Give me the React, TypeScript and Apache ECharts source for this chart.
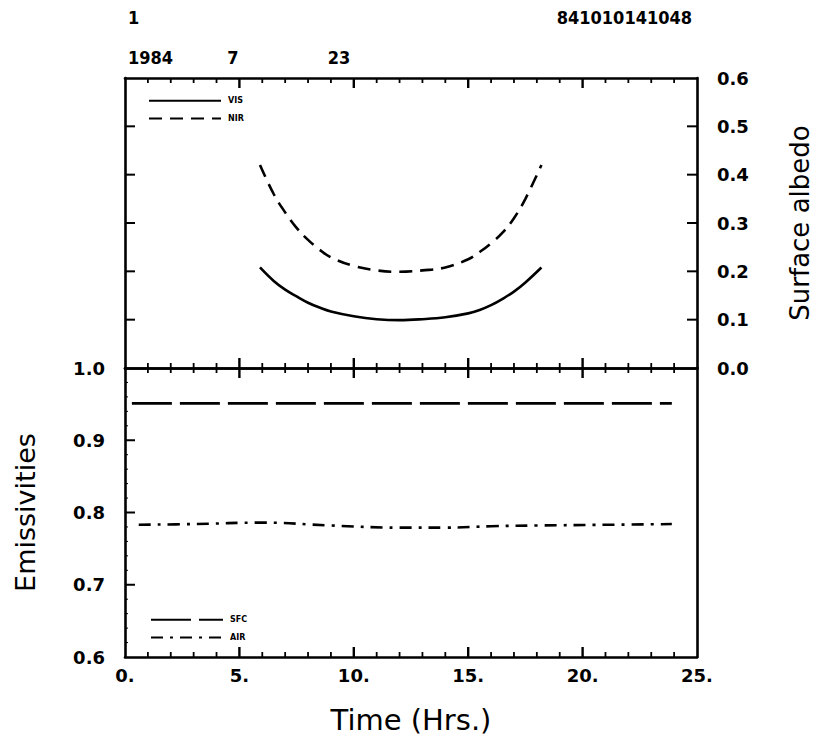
import React, { useEffect, useRef } from "react";
import * as echarts from "echarts";

// Surface albedo (top panel)
const visHours = [5.9, 6.5, 7, 7.5, 8, 8.5, 9, 10, 11, 12, 13, 14, 15, 15.5, 16, 16.5, 17, 17.5, 18.2];
const visValues = [0.208, 0.18, 0.162, 0.148, 0.135, 0.125, 0.117, 0.107, 0.101, 0.099, 0.101, 0.105, 0.113, 0.12, 0.13, 0.143, 0.158, 0.177, 0.208];
const nirHours = [5.9, 6.5, 7, 7.5, 8, 8.5, 9, 10, 11, 12, 13, 14, 15, 15.5, 16, 16.5, 17, 17.5, 18.2];
const nirValues = [0.42, 0.36, 0.322, 0.29, 0.265, 0.245, 0.229, 0.211, 0.202, 0.199, 0.202, 0.208, 0.225, 0.24, 0.258, 0.28, 0.31, 0.35, 0.42];

// Emissivities (bottom panel)
const sfcHours = [0.3, 6, 12, 18, 23.9];
const sfcValues = [0.951, 0.951, 0.951, 0.951, 0.951];
const airHours = [0.6, 3, 6, 9, 12, 14, 16, 18, 21, 23.9];
const airValues = [0.783, 0.784, 0.786, 0.782, 0.779, 0.779, 0.781, 0.782, 0.783, 0.784];

// axis ranges and tick marks
const timeRange = [0, 25];
const albedoRange = [0, 0.6];
const emisRange = [0.6, 1.0];
const timeTicks = [1, 2, 3, 4, 5, 6, 7, 8, 9, 10, 11, 12, 13, 14, 15, 16, 17, 18, 19, 20, 21, 22, 23, 24];
const albedoTicks = [0.1, 0.2, 0.3, 0.4, 0.5];
const emisTicks = [0.7, 0.8, 0.9];
const emisMinorTicks = [0.62, 0.64, 0.66, 0.68, 0.72, 0.74, 0.76, 0.78, 0.82, 0.84, 0.86, 0.88, 0.92, 0.94, 0.96, 0.98];

// header texts
const headerLeft = "1";
const headerId = "841010141048";
const dateYear = "1984";
const dateMonth = "7";
const dateDay = "23";

const pairs = (xs: number[], ys: number[]) => xs.map((x, i) => [x, ys[i]]);

const AXIS_FONT = "DejaVu Sans, Verdana, sans-serif";
const COND_FONT = "'DejaVu Sans Condensed', 'Liberation Sans Narrow', 'DejaVu Sans', sans-serif";

export default function App() {
  const ref = useRef<HTMLDivElement>(null);
  useEffect(() => {
    if (!ref.current) return;
    const chart = echarts.init(ref.current, undefined, { renderer: "svg" });

    const xAxisDef = (gridIndex: number, position: string, showLabel: boolean) => ({
      type: "value",
      gridIndex,
      position,
      min: timeRange[0],
      max: timeRange[1],
      interval: 5,
      axisLine: { show: true, onZero: false, lineStyle: { color: "#000", width: 2.6 } },
      axisTick: { show: false },
      splitLine: { show: false },
      axisLabel: {
        show: showLabel,
        margin: 9,
        color: "#000",
        fontFamily: AXIS_FONT,
        fontWeight: "bold",
        fontSize: 18,
        formatter: (v: number) => v.toFixed(0) + ".",
      },
    });
    const yAxisDef = (gridIndex: number, position: string, range: number[], showLabel: boolean) => ({
      type: "value",
      gridIndex,
      position,
      min: range[0],
      max: range[1],
      interval: 0.1,
      axisLine: { show: true, onZero: false, lineStyle: { color: "#000", width: 2.6 } },
      axisTick: { show: false },
      splitLine: { show: false },
      axisLabel: {
        show: showLabel,
        color: "#000",
        margin: 20,
        fontFamily: AXIS_FONT,
        fontWeight: "bold",
        fontSize: 18,
        formatter: (v: number) => v.toFixed(1),
      },
    });

    const legendBase = {
      orient: "vertical",
      itemWidth: 72,
      itemHeight: 12,
      itemGap: 8,
      selectedMode: false,
      itemStyle: { opacity: 0 },
      textStyle: { color: "#000", fontSize: 8, fontWeight: "bold", fontFamily: AXIS_FONT, padding: [0, 0, 0, 2] },
    };

    const headerTexts: any[] = [
      { type: "text", x: 128, y: 17, style: { text: headerLeft, font: `bold 18px ${COND_FONT}`, fill: "#000", verticalAlign: "middle" } },
      { type: "text", x: 692, y: 17, style: { text: headerId, font: `bold 18px ${COND_FONT}`, fill: "#000", align: "right", verticalAlign: "middle" } },
      { type: "text", x: 128, y: 57, style: { text: dateYear, font: `bold 18px ${COND_FONT}`, fill: "#000", verticalAlign: "middle" } },
      { type: "text", x: 233, y: 57, style: { text: dateMonth, font: `bold 18px ${COND_FONT}`, fill: "#000", align: "center", verticalAlign: "middle" } },
      { type: "text", x: 339, y: 57, style: { text: dateDay, font: `bold 18px ${COND_FONT}`, fill: "#000", align: "center", verticalAlign: "middle" } },
    ];

    const option: any = {
      animation: false,
      backgroundColor: "#fff",
      grid: [
        { left: 125, right: 125, top: 78, height: 290 },
        { left: 125, right: 125, top: 368, height: 289 },
      ],
      xAxis: [
        xAxisDef(0, "bottom", false),
        xAxisDef(0, "top", false),
        xAxisDef(1, "top", false),
        {
          ...xAxisDef(1, "bottom", true),
          name: "Time (Hrs.)",
          nameLocation: "middle",
          nameGap: 48,
          nameTextStyle: { color: "#000", fontFamily: AXIS_FONT, fontSize: 29 },
        },
      ],
      yAxis: [
        {
          ...yAxisDef(0, "right", albedoRange, true),
          name: "Surface albedo",
          nameLocation: "middle",
          nameGap: 90,
          nameTextStyle: { color: "#000", fontFamily: AXIS_FONT, fontSize: 26 },
        },
        yAxisDef(0, "left", albedoRange, false),
        {
          ...yAxisDef(1, "left", emisRange, true),
          name: "Emissivities",
          nameLocation: "middle",
          nameGap: 86,
          nameTextStyle: { color: "#000", fontFamily: AXIS_FONT, fontSize: 27 },
        },
        yAxisDef(1, "right", emisRange, false),
      ],
      legend: [
        { ...legendBase, data: ["VIS", "NIR"], left: 143, top: 91 },
        { ...legendBase, data: ["SFC", "AIR"], left: 145, top: 610 },
      ],
      graphic: headerTexts,
      series: [
        {
          name: "VIS",
          type: "line",
          xAxisIndex: 0,
          yAxisIndex: 0,
          data: pairs(visHours, visValues),
          smooth: 0.4,
          symbol: "none",
          lineStyle: { color: "#000", width: 2.6, type: "solid" },
          itemStyle: { color: "#000" },
        },
        {
          name: "NIR",
          type: "line",
          xAxisIndex: 0,
          yAxisIndex: 0,
          data: pairs(nirHours, nirValues),
          smooth: 0.4,
          symbol: "none",
          lineStyle: { color: "#000", width: 2.6, type: [13, 8] },
          itemStyle: { color: "#000" },
        },
        {
          name: "SFC",
          type: "line",
          xAxisIndex: 3,
          yAxisIndex: 2,
          data: pairs(sfcHours, sfcValues),
          symbol: "none",
          lineStyle: { color: "#000", width: 2.6, type: [40, 8] },
          itemStyle: { color: "#000" },
        },
        {
          name: "AIR",
          type: "line",
          xAxisIndex: 3,
          yAxisIndex: 2,
          data: pairs(airHours, airValues),
          smooth: 0.4,
          symbol: "none",
          lineStyle: { color: "#000", width: 2.6, type: [12, 7, 3, 7] },
          itemStyle: { color: "#000" },
        },
      ],
    };
    chart.setOption(option);

    // tick marks placed with the axes' own scales
    const px = (t: number) => chart.convertToPixel({ xAxisIndex: 3 }, t) as unknown as number;
    const pyA = (v: number) => chart.convertToPixel({ yAxisIndex: 0 }, v) as unknown as number;
    const pyE = (v: number) => chart.convertToPixel({ yAxisIndex: 2 }, v) as unknown as number;
    const rect = (x: number, y: number, w: number, h: number) => ({
      type: "rect",
      silent: true,
      z: 50,
      shape: { x, y, width: w, height: h },
      style: { fill: "#000" },
    });
    const ticks: any[] = [];
    const edges = [
      { y: pyA(albedoRange[1]), dir: 1 },
      { y: pyA(albedoRange[0]), dir: -1 },
      { y: pyE(emisRange[1]), dir: 1 },
      { y: pyE(emisRange[0]), dir: -1 },
    ];
    timeTicks.forEach((t) => {
      const major = t % 5 === 0;
      const len = major ? 10 : 5;
      const w = major ? 2.4 : 1.8;
      const x = px(t);
      edges.forEach((e) => {
        ticks.push(rect(x - w / 2, e.dir > 0 ? e.y : e.y - len, w, len));
      });
    });
    const xl = px(timeRange[0]);
    const xr = px(timeRange[1]);
    albedoTicks.forEach((v) => {
      const y = pyA(v);
      ticks.push(rect(xl, y - 1, 10, 2));
      ticks.push(rect(xr - 10, y - 1, 10, 2));
    });
    emisTicks.forEach((v) => {
      const y = pyE(v);
      ticks.push(rect(xl, y - 1, 10, 2));
    });
    emisMinorTicks.forEach((v) => {
      const y = pyE(v);
      ticks.push(rect(xl, y - 0.5, 3, 1));
    });
    chart.setOption({ graphic: [...headerTexts, ...ticks] });

    return () => chart.dispose();
  }, []);
  return (
    <div
      ref={ref}
      style={{ position: "absolute", left: 0, top: 0, width: 822, height: 738, background: "#fff" }}
    />
  );
}
